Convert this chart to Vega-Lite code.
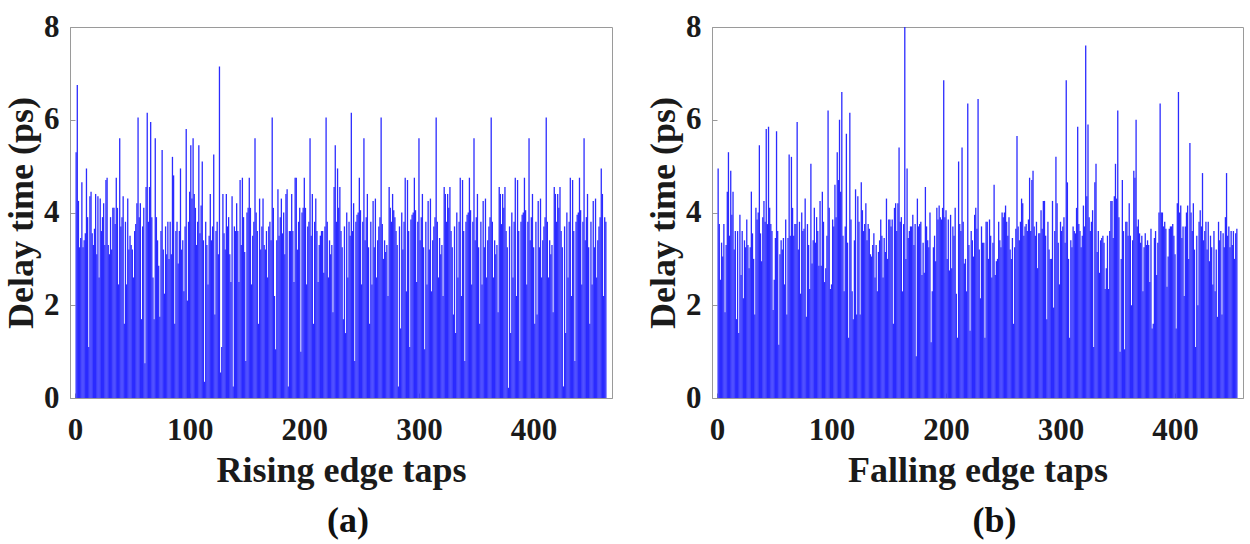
{"$schema":"https://vega.github.io/schema/vega-lite/v6.json","background":"white","padding":{"left":3,"top":10,"right":0,"bottom":0},
"datasets":{"rise":[
{"t":1,"v":5.3},{"t":2,"v":6.75},{"t":3,"v":4.25},{"t":4,"v":3.25},{"t":5,"v":3.45},{"t":6,"v":4.65},{"t":7,"v":3.25},{"t":8,"v":3.4},{"t":9,"v":3.55},{"t":10,"v":4.95},
{"t":11,"v":3.9},{"t":12,"v":1.1},{"t":13,"v":4.35},{"t":14,"v":4.45},{"t":15,"v":3.55},{"t":16,"v":3.3},{"t":17,"v":3.65},{"t":18,"v":4.4},{"t":19,"v":3.1},{"t":20,"v":4.35},
{"t":21,"v":2.6},{"t":22,"v":4.3},{"t":23,"v":3.6},{"t":24,"v":3.9},{"t":25,"v":4.2},{"t":26,"v":3.3},{"t":27,"v":4.7},{"t":28,"v":4.75},{"t":29,"v":3.3},{"t":30,"v":3.1},
{"t":31,"v":3.9},{"t":32,"v":3.2},{"t":33,"v":4.1},{"t":34,"v":4.1},{"t":35,"v":3.75},{"t":36,"v":4.75},{"t":37,"v":4.1},{"t":38,"v":2.45},{"t":39,"v":5.6},{"t":40,"v":3.7},
{"t":41,"v":3.9},{"t":42,"v":4.35},{"t":43,"v":1.6},{"t":44,"v":3.8},{"t":45,"v":2.45},{"t":46,"v":4.3},{"t":47,"v":3.2},{"t":48,"v":3.5},{"t":49,"v":3.3},{"t":50,"v":3.2},
{"t":51,"v":2.6},{"t":52,"v":3.6},{"t":53,"v":3.75},{"t":54,"v":4.2},{"t":55,"v":6.05},{"t":56,"v":3.9},{"t":57,"v":4.2},{"t":58,"v":1.7},{"t":59,"v":3.7},{"t":60,"v":4.1},
{"t":61,"v":0.75},{"t":62,"v":4.55},{"t":63,"v":6.15},{"t":64,"v":3.8},{"t":65,"v":4.55},{"t":66,"v":5.95},{"t":67,"v":3.9},{"t":68,"v":2.6},{"t":69,"v":1.7},{"t":70,"v":5.6},
{"t":71,"v":3.9},{"t":72,"v":3.4},{"t":73,"v":2.85},{"t":74,"v":1.75},{"t":75,"v":3.6},{"t":76,"v":5.35},{"t":77,"v":3.2},{"t":78,"v":2.25},{"t":79,"v":3.7},{"t":80,"v":3.1},
{"t":81,"v":3.8},{"t":82,"v":3.0},{"t":83,"v":3.8},{"t":84,"v":3.1},{"t":85,"v":5.2},{"t":86,"v":4.8},{"t":87,"v":1.6},{"t":88,"v":3.6},{"t":89,"v":3.8},{"t":90,"v":2.9},
{"t":91,"v":3.6},{"t":92,"v":4.95},{"t":93,"v":3.2},{"t":94,"v":3.4},{"t":95,"v":2.3},{"t":96,"v":3.7},{"t":97,"v":5.8},{"t":98,"v":2.1},{"t":99,"v":3.8},{"t":100,"v":4.45},
{"t":101,"v":5.45},{"t":102,"v":4.3},{"t":103,"v":5.6},{"t":104,"v":4.4},{"t":105,"v":4.1},{"t":106,"v":3.3},{"t":107,"v":3.8},{"t":108,"v":5.45},{"t":109,"v":3.55},{"t":110,"v":4.15},
{"t":111,"v":5.1},{"t":112,"v":3.4},{"t":113,"v":0.35},{"t":114,"v":3.8},{"t":115,"v":3.3},{"t":116,"v":2.45},{"t":117,"v":3.5},{"t":118,"v":4.4},{"t":119,"v":3.4},{"t":120,"v":3.7},
{"t":121,"v":5.25},{"t":122,"v":1.8},{"t":123,"v":3.6},{"t":124,"v":3.8},{"t":125,"v":3.1},{"t":126,"v":7.15},{"t":127,"v":0.55},{"t":128,"v":1.1},{"t":129,"v":4.4},{"t":130,"v":3.55},
{"t":131,"v":3.2},{"t":132,"v":4.4},{"t":133,"v":3.7},{"t":134,"v":3.9},{"t":135,"v":3.1},{"t":136,"v":2.5},{"t":137,"v":4.35},{"t":138,"v":0.25},{"t":139,"v":3.7},{"t":140,"v":3.6},
{"t":141,"v":4.2},{"t":142,"v":3.6},{"t":143,"v":2.5},{"t":144,"v":4.7},{"t":145,"v":3.3},{"t":146,"v":4.75},{"t":147,"v":3.9},{"t":148,"v":3.15},{"t":149,"v":0.8},{"t":150,"v":4.0},
{"t":151,"v":4.1},{"t":152,"v":4.75},{"t":153,"v":4.1},{"t":154,"v":2.45},{"t":155,"v":3.5},{"t":156,"v":3.8},{"t":157,"v":5.6},{"t":158,"v":4.0},{"t":159,"v":3.6},{"t":160,"v":1.6},
{"t":161,"v":4.3},{"t":162,"v":3.2},{"t":163,"v":3.7},{"t":164,"v":4.3},{"t":165,"v":3.3},{"t":166,"v":3.2},{"t":167,"v":3.6},{"t":168,"v":2.6},{"t":169,"v":3.7},{"t":170,"v":3.8},
{"t":171,"v":3.4},{"t":172,"v":6.05},{"t":173,"v":4.1},{"t":174,"v":2.2},{"t":175,"v":1.05},{"t":176,"v":3.4},{"t":177,"v":4.5},{"t":178,"v":3.5},{"t":179,"v":3.9},{"t":180,"v":4.3},
{"t":181,"v":3.55},{"t":182,"v":4.0},{"t":183,"v":3.1},{"t":184,"v":4.4},{"t":185,"v":4.5},{"t":186,"v":0.25},{"t":187,"v":3.6},{"t":188,"v":3.6},{"t":189,"v":4.4},{"t":190,"v":3.6},
{"t":191,"v":2.5},{"t":192,"v":4.75},{"t":193,"v":4.75},{"t":194,"v":3.2},{"t":195,"v":3.8},{"t":196,"v":4.1},{"t":197,"v":1.0},{"t":198,"v":4.0},{"t":199,"v":4.1},{"t":200,"v":4.75},
{"t":201,"v":4.1},{"t":202,"v":2.45},{"t":203,"v":3.7},{"t":204,"v":3.8},{"t":205,"v":5.6},{"t":206,"v":3.5},{"t":207,"v":4.4},{"t":208,"v":1.6},{"t":209,"v":3.8},{"t":210,"v":4.3},
{"t":211,"v":3.6},{"t":212,"v":2.5},{"t":213,"v":3.3},{"t":214,"v":3.5},{"t":215,"v":3.6},{"t":216,"v":3.6},{"t":217,"v":2.7},{"t":218,"v":3.7},
{"t":219,"v":6.05},{"t":220,"v":3.8},{"t":221,"v":2.6},{"t":222,"v":3.4},{"t":223,"v":3.1},{"t":224,"v":3.3},{"t":225,"v":1.85},{"t":226,"v":4.55},{"t":227,"v":5.45},{"t":228,"v":3.8},
{"t":229,"v":4.95},{"t":230,"v":4.1},{"t":231,"v":4.55},{"t":232,"v":3.6},{"t":233,"v":3.25},{"t":234,"v":1.7},{"t":235,"v":3.7},{"t":236,"v":1.4},{"t":237,"v":4.0},{"t":238,"v":2.6},
{"t":239,"v":3.8},{"t":240,"v":3.5},{"t":241,"v":6.15},{"t":242,"v":3.6},{"t":243,"v":4.2},{"t":244,"v":0.8},{"t":245,"v":3.8},{"t":246,"v":3.95},{"t":247,"v":4.0},{"t":248,"v":4.75},
{"t":249,"v":4.05},{"t":250,"v":2.45},{"t":251,"v":3.8},{"t":252,"v":5.6},{"t":253,"v":3.4},{"t":254,"v":3.9},{"t":255,"v":4.4},{"t":256,"v":3.25},{"t":257,"v":1.6},{"t":258,"v":3.8},
{"t":259,"v":2.45},{"t":260,"v":4.25},{"t":261,"v":3.25},{"t":262,"v":4.3},{"t":263,"v":2.6},{"t":264,"v":3.4},{"t":265,"v":3.7},{"t":266,"v":3.9},
{"t":267,"v":6.05},{"t":268,"v":3.75},{"t":269,"v":3.0},{"t":270,"v":3.4},{"t":271,"v":3.15},{"t":272,"v":3.3},{"t":273,"v":2.2},{"t":274,"v":4.55},{"t":275,"v":4.1},{"t":276,"v":3.8},
{"t":277,"v":4.4},{"t":278,"v":4.05},{"t":279,"v":3.9},{"t":280,"v":3.6},{"t":281,"v":3.3},{"t":282,"v":0.25},{"t":283,"v":3.7},{"t":284,"v":1.5},{"t":285,"v":4.0},{"t":286,"v":3.2},
{"t":287,"v":3.8},{"t":288,"v":4.75},{"t":289,"v":2.3},{"t":290,"v":4.7},{"t":291,"v":3.6},{"t":292,"v":1.1},{"t":293,"v":3.85},{"t":294,"v":3.95},{"t":295,"v":4.0},{"t":296,"v":4.75},
{"t":297,"v":4.05},{"t":298,"v":2.5},{"t":299,"v":3.8},{"t":300,"v":5.6},{"t":301,"v":3.4},{"t":302,"v":3.9},{"t":303,"v":4.4},{"t":304,"v":3.25},{"t":305,"v":1.05},{"t":306,"v":3.8},
{"t":307,"v":2.45},{"t":308,"v":4.25},{"t":309,"v":3.2},{"t":310,"v":4.3},{"t":311,"v":2.3},{"t":312,"v":3.4},{"t":313,"v":3.7},{"t":314,"v":3.9},
{"t":315,"v":6.05},{"t":316,"v":3.8},{"t":317,"v":2.6},{"t":318,"v":3.45},{"t":319,"v":3.1},{"t":320,"v":3.3},{"t":321,"v":2.2},{"t":322,"v":4.55},{"t":323,"v":4.4},{"t":324,"v":3.8},
{"t":325,"v":4.4},{"t":326,"v":4.1},{"t":327,"v":4.55},{"t":328,"v":3.6},{"t":329,"v":3.25},{"t":330,"v":1.8},{"t":331,"v":3.7},{"t":332,"v":1.4},{"t":333,"v":4.0},{"t":334,"v":2.6},
{"t":335,"v":3.8},{"t":336,"v":4.75},{"t":337,"v":2.2},{"t":338,"v":4.7},{"t":339,"v":3.6},{"t":340,"v":0.8},{"t":341,"v":3.8},{"t":342,"v":3.95},{"t":343,"v":4.0},{"t":344,"v":4.75},
{"t":345,"v":4.05},{"t":346,"v":2.45},{"t":347,"v":3.8},{"t":348,"v":5.6},{"t":349,"v":3.4},{"t":350,"v":3.9},{"t":351,"v":4.4},{"t":352,"v":3.25},{"t":353,"v":1.6},{"t":354,"v":3.8},
{"t":355,"v":2.45},{"t":356,"v":4.25},{"t":357,"v":3.25},{"t":358,"v":4.3},{"t":359,"v":2.6},{"t":360,"v":3.4},{"t":361,"v":3.7},{"t":362,"v":3.9},
{"t":363,"v":6.05},{"t":364,"v":3.8},{"t":365,"v":2.6},{"t":366,"v":3.4},{"t":367,"v":3.1},{"t":368,"v":3.3},{"t":369,"v":1.85},{"t":370,"v":4.55},{"t":371,"v":4.4},{"t":372,"v":3.75},
{"t":373,"v":4.4},{"t":374,"v":4.1},{"t":375,"v":4.55},{"t":376,"v":3.6},{"t":377,"v":3.25},{"t":378,"v":0.22},{"t":379,"v":3.7},{"t":380,"v":1.4},{"t":381,"v":4.0},{"t":382,"v":2.6},
{"t":383,"v":3.8},{"t":384,"v":4.75},{"t":385,"v":2.2},{"t":386,"v":4.7},{"t":387,"v":3.6},{"t":388,"v":0.8},{"t":389,"v":3.8},{"t":390,"v":3.95},{"t":391,"v":4.0},{"t":392,"v":4.75},
{"t":393,"v":4.05},{"t":394,"v":2.45},{"t":395,"v":3.8},{"t":396,"v":5.6},{"t":397,"v":3.4},{"t":398,"v":3.9},{"t":399,"v":4.4},{"t":400,"v":3.25},{"t":401,"v":1.6},{"t":402,"v":3.8},
{"t":403,"v":1.8},{"t":404,"v":4.25},{"t":405,"v":3.25},{"t":406,"v":4.3},{"t":407,"v":2.6},{"t":408,"v":3.4},{"t":409,"v":3.7},{"t":410,"v":3.9},
{"t":411,"v":6.05},{"t":412,"v":3.8},{"t":413,"v":2.6},{"t":414,"v":3.4},{"t":415,"v":3.1},{"t":416,"v":3.3},{"t":417,"v":1.85},{"t":418,"v":4.55},{"t":419,"v":4.4},{"t":420,"v":3.8},
{"t":421,"v":4.4},{"t":422,"v":4.1},{"t":423,"v":4.55},{"t":424,"v":3.6},{"t":425,"v":3.25},{"t":426,"v":0.25},{"t":427,"v":3.7},{"t":428,"v":1.4},{"t":429,"v":4.0},{"t":430,"v":2.6},
{"t":431,"v":3.8},{"t":432,"v":4.75},{"t":433,"v":2.2},{"t":434,"v":4.7},{"t":435,"v":3.6},{"t":436,"v":0.8},{"t":437,"v":3.8},{"t":438,"v":3.95},{"t":439,"v":4.0},{"t":440,"v":4.75},
{"t":441,"v":4.05},{"t":442,"v":2.45},{"t":443,"v":3.8},{"t":444,"v":5.6},{"t":445,"v":3.4},{"t":446,"v":3.9},{"t":447,"v":4.4},{"t":448,"v":3.25},{"t":449,"v":1.6},{"t":450,"v":3.8},
{"t":451,"v":2.45},{"t":452,"v":4.25},{"t":453,"v":3.25},{"t":454,"v":4.3},{"t":455,"v":2.6},{"t":456,"v":3.4},{"t":457,"v":3.7},{"t":458,"v":3.9},
{"t":459,"v":4.95},{"t":460,"v":4.4},{"t":461,"v":2.2},{"t":462,"v":3.9},{"t":463,"v":3.8}
],
"fall":[
{"t":1,"v":4.95},{"t":2,"v":3.75},{"t":3,"v":2.55},{"t":4,"v":3.35},{"t":5,"v":3.05},{"t":6,"v":3.75},{"t":7,"v":1.85},{"t":8,"v":3.3},{"t":9,"v":4.45},{"t":10,"v":5.3},
{"t":11,"v":3.5},{"t":12,"v":4.9},{"t":13,"v":3.95},{"t":14,"v":4.45},{"t":15,"v":3.2},{"t":16,"v":3.6},{"t":17,"v":1.7},{"t":18,"v":3.6},{"t":19,"v":1.4},{"t":20,"v":3.95},
{"t":21,"v":2.65},{"t":22,"v":3.6},{"t":23,"v":2.15},{"t":24,"v":3.4},{"t":25,"v":3.25},{"t":26,"v":3.85},{"t":27,"v":3.3},{"t":28,"v":2.8},{"t":29,"v":3.25},{"t":30,"v":4.45},
{"t":31,"v":3.55},{"t":32,"v":3.0},{"t":33,"v":1.8},{"t":34,"v":4.1},{"t":35,"v":3.85},{"t":36,"v":4.0},{"t":37,"v":5.45},{"t":38,"v":3.55},{"t":39,"v":2.95},{"t":40,"v":3.9},
{"t":41,"v":4.25},{"t":42,"v":3.8},{"t":43,"v":5.8},{"t":44,"v":3.75},{"t":45,"v":5.85},{"t":46,"v":4.1},{"t":47,"v":3.75},{"t":48,"v":3.6},{"t":49,"v":1.9},{"t":50,"v":2.55},
{"t":51,"v":3.45},{"t":52,"v":5.75},{"t":53,"v":3.6},{"t":54,"v":1.15},{"t":55,"v":3.1},{"t":56,"v":3.4},{"t":57,"v":3.2},{"t":58,"v":3.45},{"t":59,"v":2.45},{"t":60,"v":3.85},
{"t":61,"v":1.8},{"t":62,"v":3.45},{"t":63,"v":5.25},{"t":64,"v":3.5},{"t":65,"v":5.2},{"t":66,"v":4.1},{"t":67,"v":3.5},{"t":68,"v":3.75},{"t":69,"v":3.75},{"t":70,"v":5.95},
{"t":71,"v":3.2},{"t":72,"v":3.8},{"t":73,"v":2.25},{"t":74,"v":4.0},{"t":75,"v":3.6},{"t":76,"v":3.65},{"t":77,"v":4.3},{"t":78,"v":1.75},{"t":79,"v":3.75},{"t":80,"v":3.3},
{"t":81,"v":2.35},{"t":82,"v":5.05},{"t":83,"v":2.9},{"t":84,"v":3.4},{"t":85,"v":4.1},{"t":86,"v":3.35},{"t":87,"v":3.9},{"t":88,"v":3.6},{"t":89,"v":2.85},{"t":90,"v":4.25},
{"t":91,"v":2.85},{"t":92,"v":4.45},{"t":93,"v":3.8},{"t":94,"v":2.5},{"t":95,"v":2.8},{"t":96,"v":3.5},{"t":97,"v":6.2},{"t":98,"v":4.1},{"t":99,"v":2.35},{"t":100,"v":2.45},
{"t":101,"v":3.85},{"t":102,"v":3.7},{"t":103,"v":4.6},{"t":104,"v":3.9},{"t":105,"v":5.3},{"t":106,"v":4.7},{"t":107,"v":6.0},{"t":108,"v":4.45},{"t":109,"v":6.6},{"t":110,"v":3.5},
{"t":111,"v":2.3},{"t":112,"v":3.7},{"t":113,"v":5.7},{"t":114,"v":3.35},{"t":115,"v":1.3},{"t":116,"v":6.15},{"t":117,"v":3.85},{"t":118,"v":2.3},{"t":119,"v":1.7},{"t":120,"v":3.4},
{"t":121,"v":4.5},{"t":122,"v":1.8},{"t":123,"v":4.35},{"t":124,"v":3.8},{"t":125,"v":1.8},{"t":126,"v":4.65},{"t":127,"v":4.05},{"t":128,"v":3.6},{"t":129,"v":3.75},{"t":130,"v":4.2},
{"t":131,"v":3.4},{"t":132,"v":3.75},{"t":133,"v":3.65},{"t":134,"v":3.1},{"t":135,"v":3.05},{"t":136,"v":3.3},{"t":137,"v":3.55},{"t":138,"v":2.6},{"t":139,"v":3.3},{"t":140,"v":2.3},
{"t":141,"v":3.15},{"t":142,"v":3.4},{"t":143,"v":3.85},{"t":144,"v":3.5},{"t":145,"v":2.6},{"t":146,"v":3.45},{"t":147,"v":3.15},{"t":148,"v":4.3},{"t":149,"v":3.0},{"t":150,"v":3.85},
{"t":151,"v":3.85},{"t":152,"v":3.7},{"t":153,"v":3.85},{"t":154,"v":1.6},{"t":155,"v":4.1},{"t":156,"v":4.2},{"t":157,"v":3.6},{"t":158,"v":4.2},{"t":159,"v":5.4},{"t":160,"v":3.8},
{"t":161,"v":3.9},{"t":162,"v":2.3},{"t":163,"v":3.75},{"t":164,"v":8.0},{"t":165,"v":3.0},{"t":166,"v":4.95},{"t":167,"v":3.45},{"t":168,"v":3.6},{"t":169,"v":3.7},{"t":170,"v":3.7},
{"t":171,"v":3.95},{"t":172,"v":3.3},{"t":173,"v":3.75},{"t":174,"v":0.9},{"t":175,"v":4.3},{"t":176,"v":3.7},{"t":177,"v":3.75},{"t":178,"v":3.8},{"t":179,"v":2.65},{"t":180,"v":3.35},
{"t":181,"v":2.7},{"t":182,"v":4.55},{"t":183,"v":3.7},{"t":184,"v":3.4},{"t":185,"v":3.25},{"t":186,"v":4.0},{"t":187,"v":1.2},{"t":188,"v":2.3},{"t":189,"v":3.25},{"t":190,"v":3.5},
{"t":191,"v":2.95},{"t":192,"v":4.1},{"t":193,"v":3.85},{"t":194,"v":4.15},{"t":195,"v":3.9},{"t":196,"v":3.85},{"t":197,"v":4.1},{"t":198,"v":6.85},{"t":199,"v":3.9},{"t":200,"v":4.05},
{"t":201,"v":3.0},{"t":202,"v":3.85},{"t":203,"v":2.75},{"t":204,"v":3.95},{"t":205,"v":2.8},{"t":206,"v":3.7},{"t":207,"v":3.5},{"t":208,"v":4.1},{"t":209,"v":2.25},{"t":210,"v":1.3},
{"t":211,"v":5.1},{"t":212,"v":3.75},{"t":213,"v":3.6},{"t":214,"v":5.4},{"t":215,"v":3.8},{"t":216,"v":2.9},{"t":217,"v":3.0},{"t":218,"v":2.3},{"t":219,"v":6.35},{"t":220,"v":3.3},
{"t":221,"v":1.45},{"t":222,"v":3.6},{"t":223,"v":3.4},{"t":224,"v":3.05},{"t":225,"v":3.95},{"t":226,"v":4.1},{"t":227,"v":3.65},{"t":228,"v":6.45},{"t":229,"v":3.2},{"t":230,"v":2.15},
{"t":231,"v":3.7},{"t":232,"v":3.35},{"t":233,"v":3.35},{"t":234,"v":1.3},{"t":235,"v":3.8},{"t":236,"v":3.8},{"t":237,"v":3.0},{"t":238,"v":3.85},{"t":239,"v":3.5},{"t":240,"v":2.6},
{"t":241,"v":3.35},{"t":242,"v":4.6},{"t":243,"v":2.65},{"t":244,"v":2.95},{"t":245,"v":3.0},{"t":246,"v":3.8},{"t":247,"v":3.4},{"t":248,"v":3.25},{"t":249,"v":4.0},{"t":250,"v":3.9},
{"t":251,"v":4.0},{"t":252,"v":4.15},{"t":253,"v":3.8},{"t":254,"v":3.5},{"t":255,"v":3.9},{"t":256,"v":3.2},{"t":257,"v":3.0},{"t":258,"v":3.45},{"t":259,"v":1.6},{"t":260,"v":3.25},
{"t":261,"v":3.65},{"t":262,"v":5.65},{"t":263,"v":3.7},{"t":264,"v":3.4},{"t":265,"v":3.8},{"t":266,"v":4.3},{"t":267,"v":4.2},{"t":268,"v":3.5},{"t":269,"v":3.7},{"t":270,"v":3.75},
{"t":271,"v":3.6},{"t":272,"v":3.85},{"t":273,"v":4.75},{"t":274,"v":3.6},{"t":275,"v":4.7},{"t":276,"v":4.9},{"t":277,"v":3.7},{"t":278,"v":3.5},{"t":279,"v":3.8},{"t":280,"v":2.8},
{"t":281,"v":3.55},{"t":282,"v":3.55},{"t":283,"v":4.05},{"t":284,"v":3.65},{"t":285,"v":4.25},{"t":286,"v":4.25},{"t":287,"v":3.5},{"t":288,"v":1.7},{"t":289,"v":3.8},{"t":290,"v":3.2},
{"t":291,"v":3.0},{"t":292,"v":3.0},{"t":293,"v":4.25},{"t":294,"v":1.95},{"t":295,"v":3.6},{"t":296,"v":5.2},{"t":297,"v":4.2},{"t":298,"v":3.35},{"t":299,"v":2.45},{"t":300,"v":3.8},
{"t":301,"v":3.6},{"t":302,"v":3.7},{"t":303,"v":3.9},{"t":304,"v":3.35},{"t":305,"v":6.85},{"t":306,"v":4.65},{"t":307,"v":3.0},{"t":308,"v":1.3},{"t":309,"v":3.4},{"t":310,"v":3.25},
{"t":311,"v":3.7},{"t":312,"v":3.6},{"t":313,"v":3.55},{"t":314,"v":4.1},{"t":315,"v":5.85},{"t":316,"v":3.75},{"t":317,"v":3.6},{"t":318,"v":3.25},{"t":319,"v":3.5},{"t":320,"v":4.15},
{"t":321,"v":3.7},{"t":322,"v":7.6},{"t":323,"v":4.35},{"t":324,"v":5.9},{"t":325,"v":3.9},{"t":326,"v":3.6},{"t":327,"v":3.8},{"t":328,"v":4.05},{"t":329,"v":1.1},{"t":330,"v":4.65},
{"t":331,"v":5.05},{"t":332,"v":3.15},{"t":333,"v":3.6},{"t":334,"v":2.7},{"t":335,"v":3.4},{"t":336,"v":3.45},{"t":337,"v":3.5},{"t":338,"v":3.35},{"t":339,"v":2.35},{"t":340,"v":2.8},
{"t":341,"v":3.5},{"t":342,"v":2.35},{"t":343,"v":3.6},{"t":344,"v":4.25},{"t":345,"v":4.25},{"t":346,"v":3.45},{"t":347,"v":4.35},{"t":348,"v":5.05},{"t":349,"v":4.3},{"t":350,"v":6.2},
{"t":351,"v":3.9},{"t":352,"v":1.0},{"t":353,"v":3.0},{"t":354,"v":4.7},{"t":355,"v":3.6},{"t":356,"v":1.05},{"t":357,"v":3.8},{"t":358,"v":3.8},{"t":359,"v":3.5},{"t":360,"v":4.2},
{"t":361,"v":3.5},{"t":362,"v":2.0},{"t":363,"v":3.4},{"t":364,"v":4.9},{"t":365,"v":4.75},{"t":366,"v":6.0},{"t":367,"v":3.7},{"t":368,"v":3.85},{"t":369,"v":3.55},{"t":370,"v":3.35},
{"t":371,"v":3.5},{"t":372,"v":2.3},{"t":373,"v":3.25},{"t":374,"v":3.55},{"t":375,"v":3.3},{"t":376,"v":3.4},{"t":377,"v":3.3},{"t":378,"v":2.5},{"t":379,"v":3.65},{"t":380,"v":1.5},
{"t":381,"v":1.6},{"t":382,"v":3.45},{"t":383,"v":3.6},{"t":384,"v":2.65},{"t":385,"v":3.35},{"t":386,"v":4.0},{"t":387,"v":6.35},{"t":388,"v":4.0},{"t":389,"v":4.0},{"t":390,"v":3.7},
{"t":391,"v":3.8},{"t":392,"v":3.65},{"t":393,"v":2.4},{"t":394,"v":3.05},{"t":395,"v":3.65},{"t":396,"v":3.7},{"t":397,"v":3.7},{"t":398,"v":3.75},{"t":399,"v":3.5},{"t":400,"v":3.1},
{"t":401,"v":1.5},{"t":402,"v":4.2},{"t":403,"v":6.6},{"t":404,"v":4.0},{"t":405,"v":4.15},{"t":406,"v":3.45},{"t":407,"v":3.7},{"t":408,"v":2.2},{"t":409,"v":3.7},{"t":410,"v":4.0},
{"t":411,"v":4.15},{"t":412,"v":3.0},{"t":413,"v":5.5},{"t":414,"v":4.0},{"t":415,"v":3.6},{"t":416,"v":4.2},{"t":417,"v":3.2},{"t":418,"v":1.1},{"t":419,"v":3.5},{"t":420,"v":2.0},
{"t":421,"v":3.8},{"t":422,"v":4.05},{"t":423,"v":3.7},{"t":424,"v":4.85},{"t":425,"v":3.4},{"t":426,"v":3.6},{"t":427,"v":3.8},{"t":428,"v":3.2},{"t":429,"v":3.8},{"t":430,"v":2.95},
{"t":431,"v":3.5},{"t":432,"v":3.25},{"t":433,"v":2.45},{"t":434,"v":3.6},{"t":435,"v":2.3},{"t":436,"v":3.2},{"t":437,"v":1.75},{"t":438,"v":3.8},{"t":439,"v":3.4},{"t":440,"v":3.6},
{"t":441,"v":1.8},{"t":442,"v":3.55},{"t":443,"v":3.25},{"t":444,"v":3.9},{"t":445,"v":4.85},{"t":446,"v":3.5},{"t":447,"v":3.7},{"t":448,"v":3.25},{"t":449,"v":3.6},{"t":450,"v":3.3},
{"t":451,"v":3.6},{"t":452,"v":3.0},{"t":453,"v":3.55},{"t":454,"v":3.65}
]},
"config":{
"font":"Liberation Serif",
"view":{"stroke":"#9a9a9a","strokeWidth":1},
"axis":{"grid":false,"zindex":1,"labelFont":"Liberation Serif","labelFontSize":31,"labelFontWeight":"bold","labelColor":"#1a1a1a","titleFont":"Liberation Serif","titleFontSize":36,"titleFontWeight":"bold","titleColor":"#1a1a1a","domainColor":"#9a9a9a","tickColor":"#9a9a9a","tickSize":-5,"labelFlush":false,"labelOverlap":false},
"axisX":{"labelPadding":22,"titlePadding":8},
"axisY":{"labelPadding":16,"titlePadding":3},
"title":{"font":"Liberation Serif","fontSize":36,"fontWeight":"bold","color":"#111111"}
},
"spacing":100,
"bounds":"flush",
"hconcat":[
{"width":542,"height":371,"data":{"name":"rise"},
"title":{"text":"(a)","orient":"bottom","frame":"group","anchor":"middle","dx":7,"offset":16},
"mark":{"type":"bar","orient":"vertical","width":1.3,"color":"#2b2bff"},
"encoding":{
"x":{"field":"t","type":"quantitative","scale":{"domain":[0,464],"nice":false,"zero":false},"axis":{"values":[0,100,200,300,400],"format":"d","title":"Rising edge taps"}},
"y":{"field":"v","type":"quantitative","scale":{"domain":[0,8],"nice":false},"axis":{"values":[0,2,4,6,8],"format":"d","title":"Delay time (ps)"}}}},
{"width":531,"height":371,"data":{"name":"fall"},
"title":{"text":"(b)","orient":"bottom","frame":"group","anchor":"middle","dx":17,"offset":16},
"mark":{"type":"bar","orient":"vertical","width":1.3,"color":"#2b2bff"},
"encoding":{
"x":{"field":"t","type":"quantitative","scale":{"domain":[0,455],"nice":false,"zero":false},"axis":{"values":[0,100,200,300,400],"format":"d","title":"Falling edge taps"}},
"y":{"field":"v","type":"quantitative","scale":{"domain":[0,8],"nice":false},"axis":{"values":[0,2,4,6,8],"format":"d","title":"Delay time (ps)"}}}}
]}
